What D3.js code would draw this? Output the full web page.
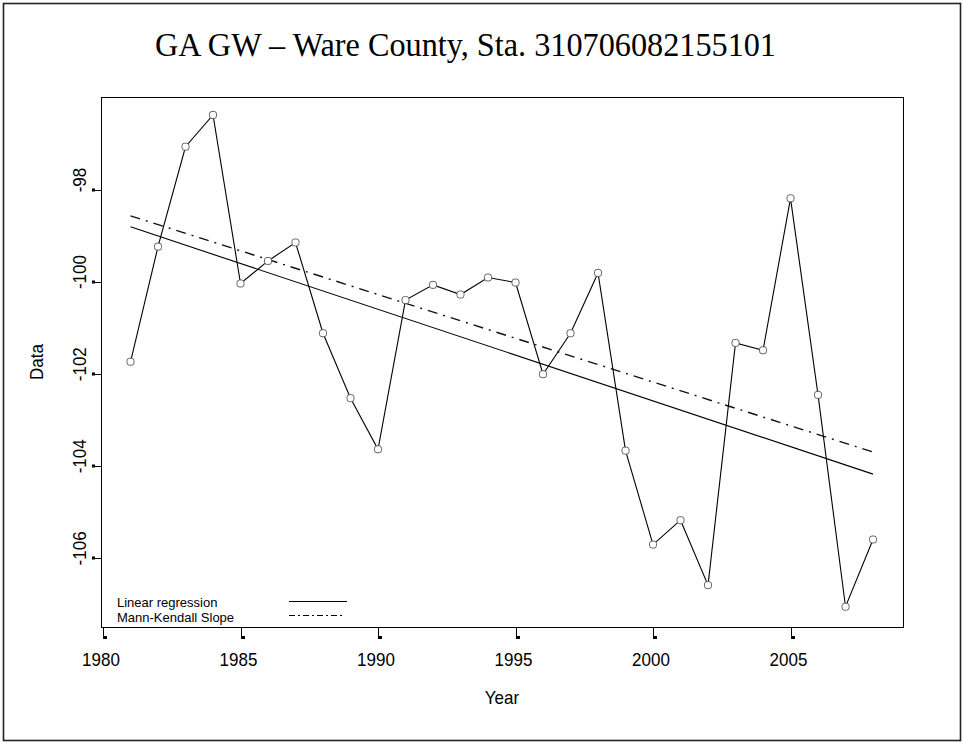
<!DOCTYPE html>
<html>
<head>
<meta charset="utf-8">
<script src="https://cdn.jsdelivr.net/npm/d3@7"></script>
<style>
  html, body { margin: 0; padding: 0; background: #fff; }
  svg { display: block; }
</style>
</head>
<body>
<svg id="chart" width="964" height="744"></svg>
<script>
// ---- data ----
const years = [1981,1982,1983,1984,1985,1986,1987,1988,1989,1990,1991,1992,1993,1994,
               1995,1996,1997,1998,1999,2000,2001,2002,2003,2004,2005,2006,2007,2008];
const values = [-101.73,-99.23,-97.06,-96.37,-100.03,-99.54,-99.14,-101.11,-102.52,-103.63,
                -100.39,-100.06,-100.27,-99.90,-100.01,-102.00,-101.11,-99.80,-103.66,-105.70,
                -105.17,-106.58,-101.32,-101.48,-98.18,-102.45,-107.05,-105.59];
const regressionYears = [1981, 2008];
const regressionValues = [-98.80, -104.17];
const mannKendallYears = [1981, 2008];
const mannKendallValues = [-98.56, -103.69];
const xTicks = [1980, 1985, 1990, 1995, 2000, 2005];
const yTicks = [-98, -100, -102, -104, -106];
const legendLabels = ["Linear regression", "Mann-Kendall Slope"];
const titleText = "GA GW \u2013 Ware County, Sta. 310706082155101";

// ---- layout ----
const svg = d3.select("#chart");
const plot = { left: 101, right: 903, top: 97, bottom: 627 };
const x = d3.scaleLinear().domain([1979.927, 2009.09]).range([plot.left, plot.right]);
const y = d3.scaleLinear().domain([-107.49, -95.98]).range([plot.bottom, plot.top]);
const sans = "'Liberation Sans', Arial, sans-serif";
const tall = "scale(1,1.08)";

// outer frame
svg.append("rect").attr("x", 3.5).attr("y", 3.5).attr("width", 957).attr("height", 737)
  .attr("fill", "none").attr("stroke", "#222").attr("stroke-width", 1.6);

// title
svg.append("text").attr("transform", "translate(155,56) scale(1,1.08)")
  .attr("font-family", "'Liberation Serif', 'Times New Roman', serif")
  .attr("font-size", 32).attr("textLength", 621).attr("lengthAdjust", "spacingAndGlyphs")
  .attr("fill", "#000").text(titleText);

// plot frame
svg.append("rect").attr("x", plot.left + 0.5).attr("y", plot.top + 0.5)
  .attr("width", plot.right - plot.left).attr("height", plot.bottom - plot.top)
  .attr("fill", "none").attr("stroke", "#000").attr("stroke-width", 1);

// x axis ticks (S-PLUS style)
const xg = svg.append("g");
xTicks.forEach(t => {
  const px = Math.round(x(t)) + 0.5;
  xg.append("line").attr("x1", px).attr("x2", px).attr("y1", plot.bottom).attr("y2", plot.bottom + 11)
    .attr("stroke", "#000").attr("stroke-width", 1);
  xg.append("rect").attr("x", px - 0.5).attr("y", plot.bottom + 9).attr("width", 4).attr("height", 3).attr("fill", "#000");
  xg.append("text").attr("transform", `translate(${x(t) - 2},666) ${tall}`).attr("text-anchor", "middle")
    .attr("font-family", sans).attr("font-size", 17).attr("fill", "#000").text(t);
});

// y axis ticks
const yg = svg.append("g");
yTicks.forEach(t => {
  const py = Math.round(y(t)) + 0.5;
  yg.append("line").attr("x1", plot.left - 8).attr("x2", plot.left).attr("y1", py).attr("y2", py)
    .attr("stroke", "#000").attr("stroke-width", 1);
  yg.append("rect").attr("x", plot.left - 9).attr("y", py - 2).attr("width", 3).attr("height", 3).attr("fill", "#000");
  yg.append("text").attr("transform", `translate(86,${y(t) - 10}) rotate(-90) ${tall}`)
    .attr("text-anchor", "middle").attr("font-family", sans).attr("font-size", 17)
    .attr("fill", "#000").text(t);
});

// axis titles
svg.append("text").attr("transform", `translate(${(plot.left + plot.right) / 2},704) ${tall}`).attr("text-anchor", "middle")
  .attr("font-family", sans).attr("font-size", 17).attr("fill", "#000").text("Year");
svg.append("text").attr("transform", `translate(43,${(plot.top + plot.bottom) / 2}) rotate(-90) ${tall}`)
  .attr("text-anchor", "middle").attr("font-family", sans).attr("font-size", 17)
  .attr("fill", "#000").text("Data");

// lines
const line = d3.line().x(d => x(d[0])).y(d => y(d[1]));
svg.append("path").attr("d", line(d3.zip(regressionYears, regressionValues)))
  .attr("fill", "none").attr("stroke", "#000").attr("stroke-width", 1.1);
svg.append("path").attr("d", line(d3.zip(mannKendallYears, mannKendallValues)))
  .attr("fill", "none").attr("stroke", "#111").attr("stroke-width", 1.4)
  .attr("stroke-dasharray", "10,6,2,6");
svg.append("path").attr("d", line(d3.zip(years, values)))
  .attr("fill", "none").attr("stroke", "#000").attr("stroke-width", 1.1);

// points
svg.append("g").selectAll("rect").data(d3.zip(years, values)).join("rect")
  .attr("x", d => x(d[0]) - 3.5).attr("y", d => y(d[1]) - 3.5)
  .attr("width", 7).attr("height", 7).attr("rx", 2.5)
  .attr("fill", "#fff").attr("stroke", "#555").attr("stroke-width", 0.9);

// legend
const lg = svg.append("g");
const legendY = [607, 622];
legendLabels.forEach((lab, i) => {
  lg.append("text").attr("x", 117).attr("y", legendY[i]).attr("font-family", sans)
    .attr("font-size", 13).attr("fill", "#000").text(lab);
});
lg.append("line").attr("x1", 289).attr("x2", 347).attr("y1", 601.5).attr("y2", 601.5)
  .attr("stroke", "#000").attr("stroke-width", 1);
lg.append("line").attr("x1", 289).attr("x2", 345).attr("y1", 615.5).attr("y2", 615.5)
  .attr("stroke", "#000").attr("stroke-width", 1).attr("stroke-dasharray", "6,3,2,3");
</script>
</body>
</html>
